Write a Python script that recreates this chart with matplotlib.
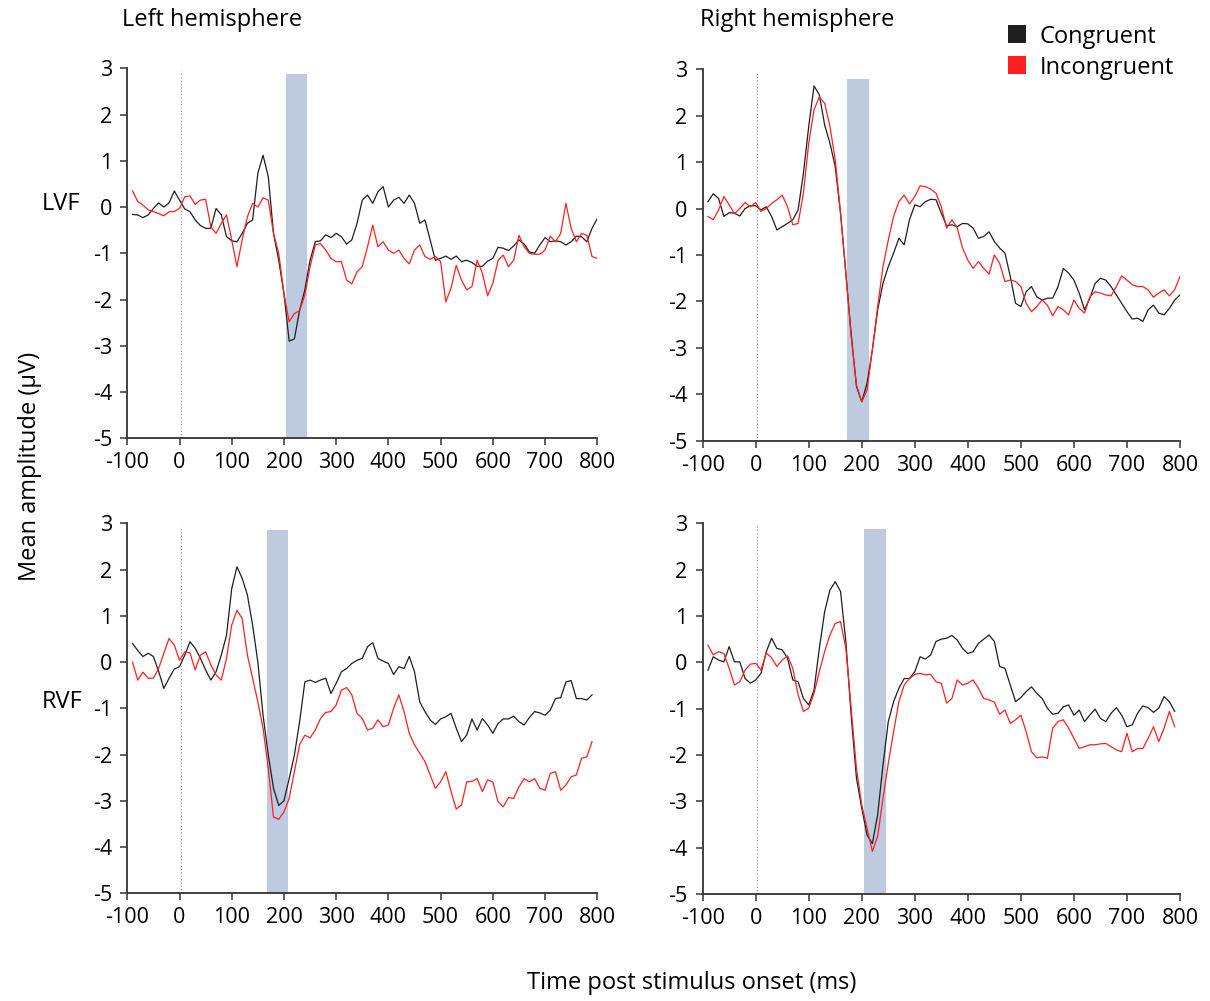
import matplotlib
matplotlib.use('Agg')
import matplotlib.pyplot as plt
from matplotlib.patches import Patch
import numpy as np

plt.rcParams['font.family'] = ['Open Sans', 'DejaVu Sans']
plt.rcParams['axes.unicode_minus'] = False

# time axes (ms)
t_top = np.arange(-90, 801, 10)
t_bot = np.arange(-90, 791, 10)

# Left hemisphere, LVF
lh_lvf_con = [-0.16, -0.17, -0.23, -0.17, -0.03, 0.09, 0.0, 0.09, 0.35, 0.15,
              -0.04, -0.1, -0.28, -0.4, -0.46, -0.46, -0.03, -0.17, -0.64, -0.73,
              -0.75, -0.57, -0.35, -0.28, 0.73, 1.12, 0.66, -0.57, -1.15, -1.87,
              -2.9, -2.85, -2.23, -1.79, -1.15, -0.75, -0.73, -0.6, -0.66, -0.57,
              -0.64, -0.8, -0.71, -0.35, 0.15, 0.26, 0.08, 0.33, 0.44, 0.0,
              0.15, 0.21, 0.08, 0.26, 0.08, -0.35, -0.28, -0.71, -1.15, -1.11,
              -1.06, -1.13, -1.06, -1.18, -1.15, -1.2, -1.28, -1.28, -1.17, -1.11,
              -0.87, -0.89, -0.94, -0.84, -0.71, -0.8, -0.97, -1.0, -0.82, -0.66,
              -0.75, -0.73, -0.75, -0.82, -0.75, -0.63, -0.64, -0.75, -0.46, -0.25]
lh_lvf_inc = [0.35, 0.12, 0.04, -0.06, -0.1, -0.14, -0.19, -0.1, -0.1, -0.03,
              0.22, 0.24, 0.06, 0.15, 0.17, -0.43, -0.57, -0.35, -0.17, -0.71,
              -1.29, -0.71, -0.21, 0.08, 0.0, 0.2, 0.15, -0.57, -1.0, -1.87,
              -2.48, -2.3, -2.24, -1.9, -1.29, -0.82, -0.79, -0.93, -1.11, -1.18,
              -1.18, -1.58, -1.66, -1.4, -1.29, -0.86, -0.39, -0.86, -0.75, -0.93,
              -1.0, -0.93, -1.11, -1.23, -0.93, -0.82, -1.07, -1.13, -1.07, -1.18,
              -2.05, -1.75, -1.26, -1.58, -1.79, -1.72, -1.15, -1.43, -1.92, -1.65,
              -1.15, -1.04, -1.29, -1.15, -0.61, -0.86, -1.0, -1.02, -1.02, -0.93,
              -0.63, -0.75, -0.57, 0.08, -0.46, -0.75, -0.57, -0.61, -1.07, -1.11]

# Right hemisphere, LVF
rh_lvf_con = [0.15, 0.32, 0.22, -0.17, -0.09, -0.1, -0.16, 0.0, 0.06, 0.06,
              -0.03, 0.04, -0.17, -0.46, -0.39, -0.32, -0.24, -0.03, 0.76, 1.77,
              2.64, 2.45, 1.8, 1.41, 0.9, -0.1, -1.39, -2.69, -3.83, -4.16,
              -3.76, -3.04, -2.18, -1.61, -1.25, -0.96, -0.64, -0.78, -0.24, 0.08,
              0.04, 0.15, 0.2, 0.19, -0.1, -0.37, -0.35, -0.39, -0.32, -0.33,
              -0.42, -0.64, -0.6, -0.5, -0.71, -0.85, -0.96, -1.46, -2.04, -2.11,
              -1.79, -1.68, -1.9, -1.97, -1.93, -1.93, -1.68, -1.29, -1.39, -1.54,
              -1.82, -2.18, -1.93, -1.61, -1.5, -1.54, -1.68, -1.86, -2.04, -2.22,
              -2.38, -2.36, -2.43, -2.18, -2.08, -2.25, -2.29, -2.15, -1.97, -1.86]
rh_lvf_inc = [-0.17, -0.24, -0.03, 0.26, 0.08, -0.11, 0.0, 0.13, 0.04, 0.13,
              -0.06, 0.0, 0.11, 0.19, 0.29, 0.04, -0.35, -0.32, 0.33, 1.41,
              2.13, 2.4, 2.27, 1.77, 1.05, -0.1, -1.39, -2.76, -3.8, -4.16,
              -3.91, -3.04, -2.11, -1.25, -0.68, -0.17, 0.15, 0.29, 0.1, 0.26,
              0.49, 0.47, 0.42, 0.33, 0.04, -0.42, -0.24, -0.42, -0.85, -1.11,
              -1.29, -1.14, -1.29, -1.41, -1.0, -1.18, -1.57, -1.54, -1.57, -1.68,
              -2.04, -2.22, -2.11, -1.97, -2.08, -2.31, -2.11, -2.18, -2.29, -1.97,
              -2.15, -2.25, -1.9, -1.79, -1.82, -1.86, -1.88, -1.68, -1.45, -1.54,
              -1.64, -1.68, -1.68, -1.75, -1.91, -1.82, -1.75, -1.88, -1.75, -1.46]

# Left hemisphere, RVF
lh_rvf_con = [0.4, 0.25, 0.12, 0.19, 0.12, -0.2, -0.57, -0.35, -0.15, -0.1,
              0.15, 0.44, 0.3, 0.08, -0.17, -0.39, -0.21, 0.15, 0.58, 1.59,
              2.06, 1.81, 1.45, 0.8, 0.0, -1.15, -2.01, -2.73, -3.1, -3.0,
              -2.52, -2.01, -1.29, -0.43, -0.39, -0.44, -0.39, -0.35, -0.68, -0.46,
              -0.21, -0.14, -0.03, 0.04, 0.08, 0.33, 0.42, 0.08, 0.02, -0.03,
              -0.27, -0.1, -0.14, 0.12, -0.21, -0.86, -1.07, -1.25, -1.35, -1.23,
              -1.18, -1.11, -1.43, -1.72, -1.58, -1.23, -1.47, -1.22, -1.36, -1.54,
              -1.33, -1.23, -1.23, -1.17, -1.29, -1.36, -1.2, -1.07, -1.1, -1.15,
              -1.04, -0.79, -0.77, -0.43, -0.4, -0.79, -0.79, -0.82, -0.71]
lh_rvf_inc = [0.0, -0.39, -0.22, -0.35, -0.35, -0.14, 0.19, 0.51, 0.37, 0.04,
              0.22, 0.2, -0.17, 0.15, 0.22, -0.06, -0.28, -0.39, 0.08, 0.8,
              1.12, 0.94, 0.15, -0.35, -0.86, -1.43, -2.3, -3.35, -3.4, -3.24,
              -2.95, -2.37, -1.79, -1.58, -1.64, -1.47, -1.22, -1.09, -1.07, -0.93,
              -0.61, -0.55, -0.71, -1.11, -1.22, -1.47, -1.43, -1.25, -1.4, -1.36,
              -1.0, -0.71, -1.07, -1.54, -1.79, -1.97, -2.15, -2.44, -2.73, -2.59,
              -2.37, -2.8, -3.18, -3.09, -2.59, -2.58, -2.52, -2.8, -2.55, -2.59,
              -3.02, -3.13, -2.93, -2.95, -2.7, -2.52, -2.59, -2.52, -2.73, -2.77,
              -2.41, -2.37, -2.77, -2.66, -2.48, -2.44, -2.08, -2.05, -1.72]

# Right hemisphere, RVF
rh_rvf_con = [-0.17, 0.12, 0.05, 0.01, 0.34, 0.01, 0.01, -0.35, -0.45, -0.38,
              -0.24, 0.23, 0.52, 0.3, 0.27, 0.09, -0.38, -0.42, -0.78, -0.92,
              -0.6, 0.3, 1.09, 1.56, 1.74, 1.53, 0.45, -1.14, -2.5, -3.15,
              -3.73, -3.91, -3.29, -2.22, -1.28, -0.85, -0.56, -0.35, -0.35, -0.2,
              0.12, 0.07, 0.16, 0.45, 0.5, 0.52, 0.58, 0.48, 0.3, 0.19,
              0.23, 0.41, 0.5, 0.59, 0.45, -0.09, -0.13, -0.49, -0.85, -0.76,
              -0.63, -0.53, -0.67, -0.78, -0.99, -1.12, -1.1, -0.96, -0.92, -1.14,
              -1.03, -1.28, -1.14, -1.01, -1.21, -1.28, -1.1, -0.98, -1.14, -1.39,
              -1.35, -1.1, -0.94, -0.98, -1.08, -0.99, -0.74, -0.85, -1.06]
rh_rvf_inc = [0.37, 0.16, 0.23, 0.19, -0.13, -0.49, -0.42, -0.17, -0.04, -0.02,
              -0.17, 0.2, 0.1, -0.09, 0.05, 0.14, -0.13, -0.7, -1.06, -0.99,
              -0.67, -0.2, 0.23, 0.59, 0.84, 0.88, 0.3, -0.99, -2.29, -3.08,
              -3.58, -4.08, -3.75, -2.94, -2.18, -1.5, -0.85, -0.49, -0.35, -0.26,
              -0.24, -0.27, -0.26, -0.42, -0.45, -0.88, -0.78, -0.38, -0.49, -0.45,
              -0.38, -0.56, -0.78, -0.81, -0.86, -1.12, -1.03, -1.32, -1.24, -1.14,
              -1.5, -1.93, -2.06, -2.04, -2.07, -1.42, -1.28, -1.24, -1.42, -1.64,
              -1.86, -1.82, -1.78, -1.78, -1.76, -1.75, -1.82, -1.89, -1.93, -1.53,
              -1.93, -1.86, -1.86, -1.64, -1.39, -1.71, -1.42, -1.06, -1.39]

# shaded analysis windows (ms) and their top edge (uV)
win_start = [204, 173, 167, 205]
win_end = [245, 213, 208, 246]
win_top = [2.88, 2.78, 2.86, 2.88]

panels = [
    (t_top, lh_lvf_con, lh_lvf_inc),
    (t_top, rh_lvf_con, rh_lvf_inc),
    (t_bot, lh_rvf_con, lh_rvf_inc),
    (t_bot, rh_rvf_con, rh_rvf_inc),
]

# axes boxes in figure fractions [left, bottom, width, height]
boxes = [
    [0.1052, 0.5621, 0.3884, 0.3697],
    [0.5807, 0.5597, 0.3945, 0.3711],
    [0.1052, 0.1076, 0.3884, 0.3696],
    [0.5807, 0.1069, 0.3945, 0.3703],
]

con_color = '#1e1e1e'
inc_color = '#ff1f1f'
win_color = '#bdcadf'
tick_fs = 15.5
label_fs = 17

fig = plt.figure(figsize=(12.1, 10.01), dpi=100)

for i, (t, con, inc) in enumerate(panels):
    ax = fig.add_axes(boxes[i])
    ax.fill_betweenx([-5, win_top[i]], win_start[i], win_end[i],
                     color=win_color, linewidth=0, zorder=1)
    ax.vlines(3, -5, 2.95, colors='#999999', linestyles=(0, (1, 2)),
              linewidth=0.8, zorder=2)
    ax.plot(t, con, color=con_color, linewidth=0.9, zorder=3)
    ax.plot(t, inc, color=inc_color, linewidth=0.9, zorder=4)
    ax.set_xlim(-100, 800)
    ax.set_ylim(-5, 3)
    ax.set_xticks(np.arange(-100, 801, 100))
    ax.set_yticks(np.arange(-5, 4, 1))
    for side in ['top', 'right']:
        ax.spines[side].set_visible(False)
    for side in ['left', 'bottom']:
        ax.spines[side].set_color('#333333')
        ax.spines[side].set_linewidth(1.3)
    ax.tick_params(direction='out', length=5, width=1.1, color='#333333',
                   labelsize=tick_fs)
    ax.tick_params(axis='x', pad=5)
    ax.tick_params(axis='y', pad=6)

fig.text(122 / 1210, 1 - 20 / 1001, 'Left hemisphere', fontsize=label_fs,
         ha='left', va='center')
fig.text(700 / 1210, 1 - 20 / 1001, 'Right hemisphere', fontsize=label_fs,
         ha='left', va='center')
fig.text(42 / 1210, 1 - 204 / 1001, 'LVF', fontsize=label_fs, ha='left', va='center')
fig.text(42 / 1210, 1 - 702 / 1001, 'RVF', fontsize=label_fs, ha='left', va='center')
fig.text(30 / 1210, 1 - 466 / 1001, 'Mean amplitude (μV)', fontsize=label_fs,
         rotation=90, ha='center', va='center')
fig.text(692 / 1210, 1 - 983 / 1001, 'Time post stimulus onset (ms)',
         fontsize=label_fs, ha='center', va='center')

handles = [Patch(facecolor=con_color, edgecolor='none', label='Congruent'),
           Patch(facecolor=inc_color, edgecolor='none', label='Incongruent')]
fig.legend(handles=handles, loc='upper left',
           bbox_to_anchor=(991 / 1210, 1 - 8 / 1001), frameon=False,
           fontsize=label_fs, handlelength=0.8, handleheight=0.8,
           handletextpad=0.55, labelspacing=0.3, borderpad=0.2)

fig.savefig('out.png', dpi=100)
